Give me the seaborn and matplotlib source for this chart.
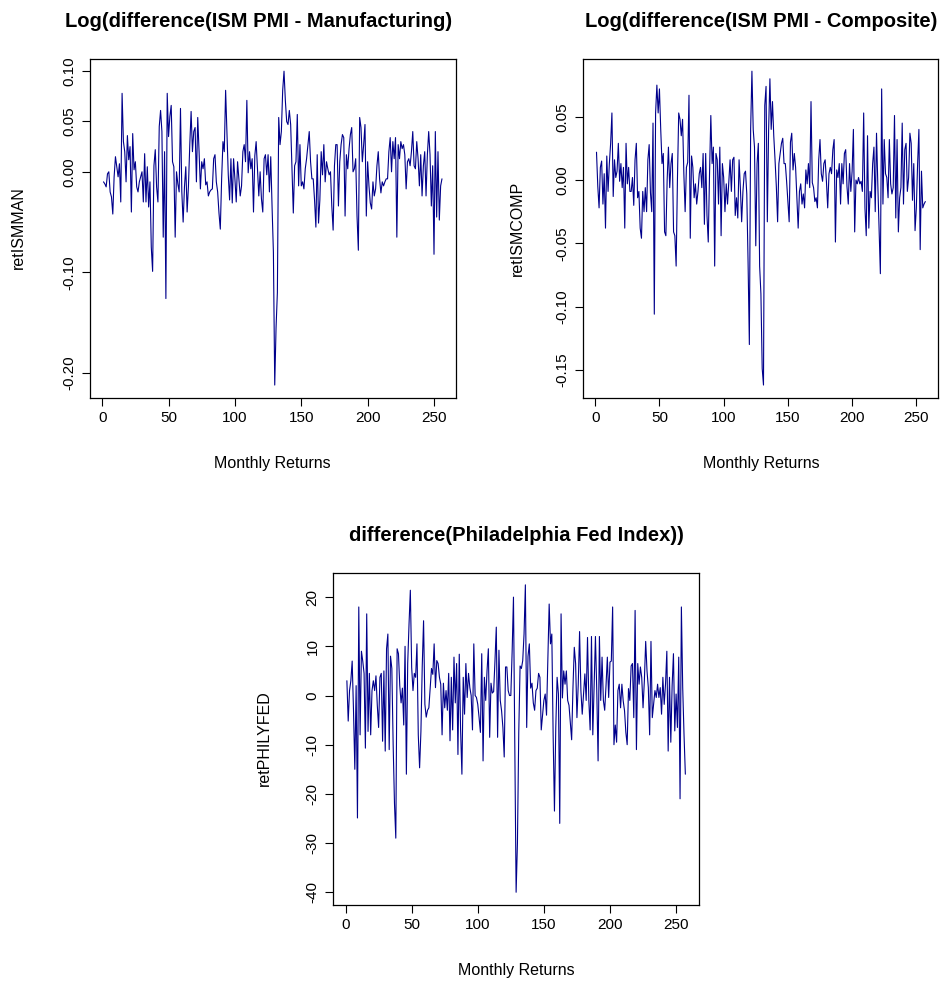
import numpy as np
import pandas as pd
import matplotlib
matplotlib.use("Agg")
import matplotlib.pyplot as plt
import seaborn as sns

# values
ret_ism_man = [
    -0.010, -0.012, -0.015, -0.002, 0.000, -0.020, -0.025, -0.042, -0.005, 0.015,
    0.005, -0.005, 0.008, -0.030, 0.078, 0.030, 0.020, -0.010, 0.036, 0.012,
    0.025, -0.040, 0.038, 0.002, 0.010, -0.015, -0.020, -0.010, -0.005, 0.000,
    -0.030, 0.018, -0.030, 0.005, -0.035, -0.010, -0.075, -0.099, 0.006, 0.022,
    -0.015, -0.030, 0.045, 0.061, 0.040, -0.065, 0.020, -0.126, 0.078, 0.035,
    0.055, 0.066, 0.010, 0.005, -0.065, 0.000, -0.012, -0.020, 0.063, -0.020,
    -0.050, -0.015, 0.005, -0.040, -0.014, 0.027, 0.060, 0.020, 0.040, 0.044,
    -0.010, 0.054, 0.020, -0.017, 0.010, 0.003, 0.013, -0.013, -0.010, -0.024,
    -0.020, -0.018, -0.017, 0.013, 0.017, -0.010, -0.020, -0.041, -0.057, -0.007,
    0.030, 0.020, 0.081, 0.040, -0.003, -0.028, 0.013, -0.031, 0.013, -0.007,
    -0.030, 0.010, -0.007, -0.024, -0.014, 0.020, 0.027, 0.010, 0.071, -0.001,
    0.020, 0.003, 0.013, -0.040, 0.016, 0.030, 0.003, -0.024, 0.000, -0.027,
    -0.040, 0.013, 0.017, -0.003, 0.017, -0.020, 0.015, -0.035, -0.080, -0.212,
    -0.155, -0.120, 0.054, 0.027, 0.040, 0.081, 0.100, 0.071, 0.050, 0.047,
    0.061, 0.047, 0.003, -0.041, 0.006, 0.010, 0.057, -0.014, 0.027, -0.014,
    -0.010, -0.017, 0.003, 0.013, 0.027, 0.040, 0.010, -0.007, -0.007, -0.028,
    -0.055, 0.017, -0.051, -0.028, 0.020, -0.003, 0.027, -0.010, 0.010, 0.003,
    -0.003, 0.000, -0.034, -0.058, 0.006, 0.027, 0.027, -0.034, 0.010, 0.027,
    0.037, 0.034, -0.044, 0.017, 0.003, 0.023, 0.037, 0.044, 0.000, 0.003,
    0.013, -0.044, -0.078, 0.054, 0.044, 0.010, 0.027, 0.047, -0.044, 0.010,
    -0.014, -0.031, -0.037, -0.010, -0.024, -0.017, 0.006, 0.020, -0.007, -0.021,
    -0.010, -0.014, -0.010, -0.007, -0.007, 0.020, 0.034, 0.000, 0.030, 0.013,
    0.034, -0.065, 0.027, 0.013, 0.030, 0.023, 0.027, 0.017, -0.017, 0.010,
    0.013, 0.006, 0.020, 0.040, 0.006, 0.003, 0.030, 0.013, -0.014, 0.017,
    -0.024, 0.006, 0.020, -0.024, 0.017, 0.040, 0.017, -0.034, 0.006, -0.082,
    0.040, -0.045, 0.020, -0.048, -0.014, -0.007,
]

ret_ism_comp = [
    0.022, -0.005, -0.022, 0.010, 0.015, -0.019, 0.005, -0.038, 0.019, -0.009,
    0.013, 0.029, 0.053, -0.013, 0.016, 0.002, 0.007, 0.029, -0.001, 0.013,
    -0.006, 0.010, -0.038, 0.029, -0.003, 0.010, -0.009, -0.009, 0.002, -0.020,
    0.016, 0.029, -0.014, -0.009, -0.038, -0.046, -0.009, -0.025, -0.006, -0.025,
    0.016, 0.028, -0.010, -0.025, 0.045, -0.106, 0.053, 0.075, 0.053, 0.072,
    0.040, 0.013, 0.021, -0.041, -0.044, 0.000, 0.026, -0.006, 0.013, 0.021,
    -0.041, -0.044, -0.068, 0.000, 0.053, 0.048, 0.035, 0.048, 0.005, -0.025,
    0.010, 0.014, 0.067, -0.046, 0.019, 0.010, -0.014, -0.003, -0.019, -0.009,
    0.005, 0.010, -0.006, 0.021, -0.035, 0.021, -0.028, -0.049, 0.005, 0.051,
    0.013, 0.026, -0.068, 0.021, 0.016, -0.019, 0.026, -0.044, 0.013, 0.002,
    -0.025, -0.003, -0.019, -0.001, 0.016, -0.009, 0.016, 0.018, -0.028, -0.014,
    -0.030, 0.016, -0.006, -0.033, -0.009, 0.005, 0.007, -0.011, -0.065, -0.130,
    0.040, 0.086, 0.040, 0.026, -0.052, 0.013, 0.029, -0.068, -0.090, -0.149,
    -0.162, 0.059, 0.074, -0.033, 0.040, 0.080, 0.040, 0.062, 0.035, 0.016,
    -0.005, -0.033, 0.013, 0.021, 0.029, 0.033, 0.013, 0.013, -0.001, -0.017,
    -0.033, 0.030, 0.037, 0.008, 0.021, 0.010, -0.014, -0.038, -0.009, -0.003,
    -0.019, -0.011, -0.022, 0.008, -0.003, 0.013, -0.006, 0.062, -0.002, -0.006,
    -0.017, -0.014, -0.022, 0.016, 0.032, 0.005, -0.001, 0.013, 0.016, -0.001,
    -0.022, 0.005, 0.010, 0.005, 0.024, 0.032, -0.049, 0.008, 0.002, 0.013,
    -0.019, 0.013, -0.003, 0.021, 0.024, -0.005, -0.019, 0.013, -0.009, 0.007,
    0.040, -0.041, 0.000, -0.003, 0.002, -0.003, -0.001, -0.009, 0.053, -0.022,
    -0.044, 0.035, -0.038, -0.009, -0.014, 0.013, 0.026, -0.025, 0.037, -0.003,
    -0.038, -0.074, 0.072, -0.019, 0.032, 0.005, 0.002, -0.014, 0.032, -0.003,
    -0.011, -0.006, 0.051, -0.030, 0.032, -0.041, -0.014, -0.006, 0.045, -0.019,
    0.024, 0.029, -0.009, 0.002, 0.037, 0.029, -0.016, 0.013, -0.040, -0.022,
    0.013, 0.040, -0.055, 0.007, -0.022, -0.019, -0.017,
]

ret_phily_fed = [
    3.0, -5.2, 1.0, 3.0, 7.0, -3.0, -15.0, 2.0, -24.9, 18.0,
    -8.0, 9.0, 7.0, 4.5, -10.7, 16.6, -7.3, 4.5, -8.0, 1.0,
    3.0, 1.0, 4.0, -2.0, -6.5, 3.7, 4.5, -9.3, 5.0, -11.3,
    9.5, 12.5, -11.0, 8.0, 5.5, -10.0, -22.0, -29.0, 9.5, 8.5,
    2.0, -1.5, 1.5, -6.0, 10.0, -16.0, 6.5, 14.5, 21.4, 5.7,
    1.0, 4.5, 3.7, 10.5, -8.0, -14.7, -7.3, 6.0, 15.2, -1.8,
    -4.4, -3.0, -2.5, 1.6, 5.5, 4.3, 10.5, 1.6, 7.1, 6.5,
    3.7, 2.3, -8.0, 2.5, -2.5, 1.0, -3.0, 4.5, -9.2, 3.7,
    -7.0, 7.8, -1.5, 6.5, -12.0, 8.4, -7.0, -16.0, 3.7, -3.8,
    6.5, -0.4, 4.5, 1.6, 0.0, -7.0, 10.5, 0.0, -0.4, -1.8,
    -4.5, -7.5, 8.5, -13.3, 3.7, -1.0, 5.0, 9.5, -8.5, 2.5,
    0.5, 0.8, 7.0, 13.9, -8.5, 9.2, -1.0, -3.1, -6.5, -12.5,
    5.8, 5.8, 1.0, 0.0, 0.0, 9.0, 20.0, -10.0, -40.0, -30.0,
    -7.5, 6.0, 5.5, 7.1, 12.5, 22.5, -6.5, 8.0, 10.5, 1.5,
    2.5, -1.5, -3.0, 1.0, 1.5, 4.5, 3.7, -7.0, -4.0, -1.0,
    0.3, -4.0, 7.0, 18.6, 10.5, 12.5, -8.0, -23.5, -6.5, 3.7,
    0.3, -26.0, 16.6, -0.5, 5.0, 2.3, 5.0, -1.0, -2.0, -5.5,
    -9.0, 1.6, 9.8, 6.5, -4.5, 2.3, 13.0, 1.0, -3.8, 0.3,
    4.4, -1.0, 11.8, -1.0, -7.0, 12.0, -8.0, 1.6, 12.0, 1.0,
    -13.3, 12.0, -1.0, 7.8, -1.0, -3.0, 2.0, 7.8, -0.4, 6.8,
    7.0, 18.0, -10.0, -6.0, -9.5, 1.0, 2.3, -2.5, 2.3, -1.1,
    -3.1, -7.5, -10.0, 1.4, -1.0, 6.0, 6.5, -4.5, 17.3, -11.0,
    6.5, 2.3, 5.8, 3.7, -2.5, 3.0, 11.0, 5.0, 1.6, -8.0,
    11.0, -4.5, -1.8, 1.0, -0.4, 2.3, -0.4, 1.6, -3.8, 3.7,
    -1.8, 2.3, 9.0, -11.3, 3.7, -9.5, 2.0, 8.5, -7.2, 0.3,
    -6.5, 7.8, -21.0, 18.0, 1.6, -8.0, -16.0,
]

titles = [
    "Log(difference(ISM PMI - Manufacturing)",
    "Log(difference(ISM PMI - Composite)",
    "difference(Philadelphia Fed Index))",
]
ylabels = ["retISMMAN", "retISMCOMP", "retPHILYFED"]
x_ticks = [0, 50, 100, 150, 200, 250]
y_ticks = [
    [-0.20, -0.10, 0.00, 0.05, 0.10],
    [-0.15, -0.10, -0.05, 0.00, 0.05],
    [-40, -30, -20, -10, 0, 10, 20],
]
y_ticklabels = [
    ["-0.20", "-0.10", "0.00", "0.05", "0.10"],
    ["-0.15", "-0.10", "-0.05", "0.00", "0.05"],
    ["-40", "-30", "-20", "-10", "0", "10", "20"],
]


def main():
    sns.set_style("white")
    plt.rcParams["font.family"] = ["Liberation Sans", "DejaVu Sans"]
    plt.rcParams["text.color"] = "black"
    plt.rcParams["axes.labelcolor"] = "black"

    fig = plt.figure(figsize=(9.47, 9.94), dpi=100)
    # [left, bottom, width, height] in figure fractions, like R's mfrow layout
    boxes = [
        [0.095, 0.600, 0.386, 0.341],
        [0.616, 0.600, 0.375, 0.341],
        [0.352, 0.090, 0.386, 0.334],
    ]
    series = [ret_ism_man, ret_ism_comp, ret_phily_fed]
    ylabel_pads = [26, 22, 24]
    title_x = [0.46, 0.5, 0.5]

    for k in range(3):
        ax = fig.add_axes(boxes[k])
        vals = series[k]
        df = pd.DataFrame({"idx": np.arange(1, len(vals) + 1), "val": vals})
        sns.lineplot(data=df, x="idx", y="val", ax=ax, color="#00008B", linewidth=0.8)
        ax.margins(x=0.04, y=0.04)
        ax.set_xticks(x_ticks)
        ax.set_yticks(y_ticks[k])
        ax.set_yticklabels(y_ticklabels[k], rotation=90, va="center")
        ax.tick_params(direction="out", length=6, width=0.8, colors="black",
                       labelsize=11, pad=4, left=True, bottom=True)
        for s in ax.spines.values():
            s.set_visible(True)
            s.set_color("black")
            s.set_linewidth(0.9)
        ax.set_xlabel("Monthly Returns", fontsize=11.5, labelpad=22, color="black")
        ax.set_ylabel(ylabels[k], fontsize=11.5, labelpad=ylabel_pads[k], color="black")
        ax.set_title(titles[k], fontsize=14.5, fontweight="bold", pad=23,
                     color="black", x=title_x[k])

    fig.savefig("out.png", dpi=100, facecolor="white")


if __name__ == "__main__":
    main()
